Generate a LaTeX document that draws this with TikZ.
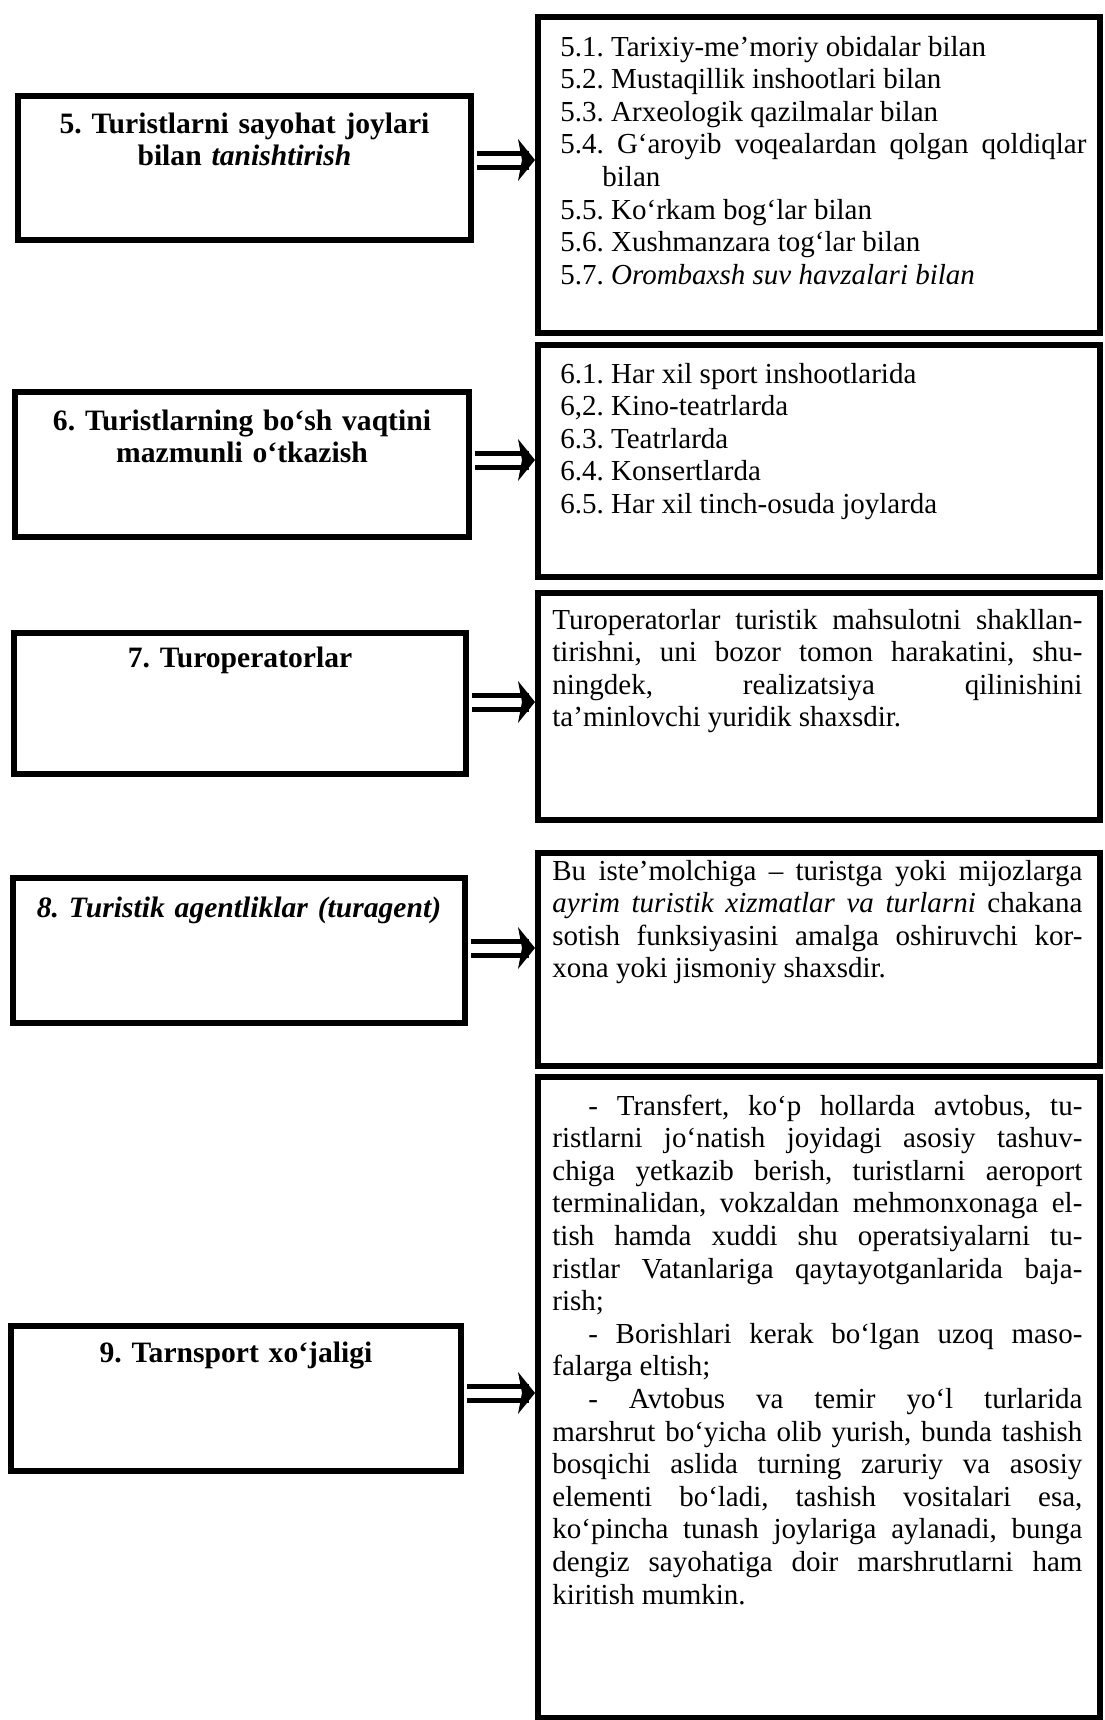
\documentclass[tikz,border=0pt]{standalone}
\usepackage{fontspec}
\setmainfont{Liberation Serif}
\frenchspacing
\usetikzlibrary{arrows.meta}
\newcommand\bodyfnt{\fontsize{14.5pt}{16.3pt}\selectfont\tolerance=9999\hyphenpenalty=10000\frenchspacing\relax}
\newcommand\ttlfnt{\fontsize{14.8pt}{16pt}\selectfont\bfseries\frenchspacing}
\begin{document}
\begin{tikzpicture}[x=0.5pt,y=-0.5pt,
  box/.style={draw, line width=3pt, inner sep=0pt, rectangle},
  lbox/.style={box, minimum width=226.5pt, minimum height=72.5pt},
  rbox/.style={box, minimum width=281pt},
  ttl/.style={anchor=base, inner sep=0pt, text width=215pt, align=center, font=\ttlfnt},
  lst/.style={anchor=base west, inner sep=0pt, text width=263pt, align=justify, font=\bodyfnt},
  prg/.style={anchor=base west, inner sep=0pt, text width=265pt, align=justify, font=\bodyfnt},
  arrbody/.style={line width=2.5pt, double=white, double distance=4.5pt, shorten >=3pt, shorten <=1.5pt},
]
\useasboundingbox (0,0) rectangle (1104,1720);

% left boxes
\node[lbox, minimum width=226.5pt, minimum height=72pt] (l5) at (244.5,168) {};
\node[lbox, minimum width=227pt] (l6) at (242,464.5) {};
\node[lbox, minimum width=226pt, minimum height=70.5pt] (l7) at (240,703.5) {};
\node[lbox, minimum width=226pt] (l8) at (239,950.5) {};
\node[lbox, minimum width=225pt] (l9) at (236,1398.5) {};

% right boxes
\node[rbox, minimum height=158pt] (r5) at (819,175) {};
\node[rbox, minimum height=116pt] (r6) at (819,461) {};
\node[rbox, minimum height=113.5pt] (r7) at (819,706.5) {};
\node[rbox, minimum height=106.5pt] (r8) at (819,959.5) {};
\node[rbox, minimum height=320.5pt] (r9) at (819,1397.5) {};

% titles
\node[ttl] (h5) at ([yshift=-20pt]l5.north) {5. Turistlarni sayohat joylari\\ bilan \textit{tanishtirish}};
\node[ttl] (h6) at ([yshift=-20.5pt]l6.north) {6. Turistlarning bo‘sh vaqtini\\ mazmunli o‘tkazish};
\node[ttl] (h7) at ([yshift=-18.5pt]l7.north) {7. Turoperatorlar};
\node[ttl] (h8) at ([yshift=-21pt]l8.north) {\textit{8. Turistik agentliklar (turagent)}};
\node[ttl] (h9) at ([yshift=-19.5pt]l9.north) {9. Tarnsport xo‘jaligi};

% texts
\node[lst] (t5) at ([xshift=12.5pt,yshift=-21pt]r5.north west) {5.1. Tarixiy-me’moriy obidalar bilan\par
5.2. Mustaqillik inshootlari bilan\par
5.3. Arxeologik qazilmalar bilan\par
\hangindent=21pt\hangafter=1\relax 5.4. G‘aroyib voqealardan qolgan qoldiqlar bilan\par
5.5. Ko‘rkam bog‘lar bilan\par
5.6. Xushmanzara tog‘lar bilan\par
5.7. \textit{Orombaxsh suv havzalari bilan}};

\node[lst] (t6) at ([xshift=12.5pt,yshift=-20.5pt]r6.north west) {6.1. Har xil sport inshootlarida\par
6,2. Kino-teatrlarda\par
6.3. Teatrlarda\par
6.4. Konsertlarda\par
6.5. Har xil tinch-osuda joylarda};

\node[prg] (t7) at ([xshift=8.5pt,yshift=-19.5pt]r7.north west) {Turoperatorlar turistik mahsulotni shakllan-\linebreak
tirishni, uni bozor tomon harakatini, shu-\linebreak
ningdek, realizatsiya qilinishini\linebreak
ta’minlovchi yuridik shaxsdir.};

\node[prg] (t8) at ([xshift=8.5pt,yshift=-15pt]r8.north west) {Bu iste’molchiga – turistga yoki mijozlarga\linebreak
\textit{ayrim turistik xizmatlar va turlarni} chakana\linebreak
sotish funksiyasini amalga oshiruvchi kor-\linebreak
xona yoki jismoniy shaxsdir.};

\node[prg] (t9) at ([xshift=8.5pt,yshift=-20.5pt]r9.north west) {\hspace*{18pt}- Transfert, ko‘p hollarda avtobus, tu-\linebreak
ristlarni jo‘natish joyidagi asosiy tashuv-\linebreak
chiga yetkazib berish, turistlarni aeroport\linebreak
terminalidan, vokzaldan mehmonxonaga el-\linebreak
tish hamda xuddi shu operatsiyalarni tu-\linebreak
ristlar Vatanlariga qaytayotganlarida baja-\linebreak
rish;\par
\hspace*{18pt}- Borishlari kerak bo‘lgan uzoq maso-\linebreak
falarga eltish;\par
\hspace*{18pt}- Avtobus va temir yo‘l turlarida\linebreak
marshrut bo‘yicha olib yurish, bunda tashish\linebreak
bosqichi aslida turning zaruriy va asosiy\linebreak
elementi bo‘ladi, tashish vositalari esa,\linebreak
ko‘pincha tunash joylariga aylanadi, bunga\linebreak
dengiz sayohatiga doir marshrutlarni ham\linebreak
kiritish mumkin.};

% connectors: double bar with a filled head ending at the right box
\foreach \a/\b/\s in {l5/r5/4pt, l6/r6/2.25pt, l7/r7/0.75pt, l8/r8/1.25pt, l9/r9/2.75pt}{
  \coordinate (tip\a) at ([yshift=\s]\a.east -| \b.west);
  \draw[arrbody] ([yshift=\s]\a.east) -- (tip\a);
  \fill (tip\a) -- ++(-17,-21) -- ++(4,21) -- ++(-4,21) -- cycle;
}
\end{tikzpicture}
\end{document}
